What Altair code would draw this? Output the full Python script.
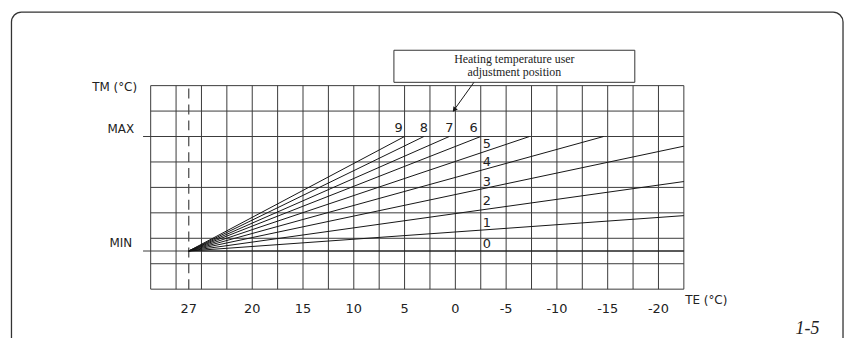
import altair as alt
import pandas as pd

# ---- data ----
te_grid = [30, 27.5, 25, 22.5, 20, 17.5, 15, 12.5, 10, 7.5, 5, 2.5, 0,
           -2.5, -5, -7.5, -10, -12.5, -15, -17.5, -20, -22.5]
tm_grid = [0, 1, 2, 3, 4, 5, 6, 7, 8]
tm_min = 1.5
tm_max = 6.0
te_left_ext = 30.75      # MIN / MAX lines stick out left of the grid
te_design = 26.25        # dashed line, labelled 27

tick_te = [26.25, 20, 15, 10, 5, 0, -5, -10, -15, -20]
tick_text = ["27", "20", "15", "10", "5", "0", "-5", "-10", "-15", "-20"]

curve_id = ["9", "8", "7", "6", "5", "4", "3", "2", "1", "0"]
curve_end_te = [5.0, 3.1, 0.6, -2.5, -7.3, -14.6, -22.5, -22.5, -22.5, -22.5]
curve_end_tm = [6.0, 6.0, 6.0, 6.0, 6.0, 6.0, 5.62, 4.23, 2.89, 1.5]

lab_text = ["9", "8", "7", "6", "5", "4", "3", "2", "1", "0"]
lab_te = [5.6, 3.1, 0.6, -1.8, -3.1, -3.1, -3.1, -3.1, -3.1, -3.1]
lab_tm = [6.32, 6.32, 6.32, 6.32, 5.70, 5.01, 4.23, 3.45, 2.58, 1.76]

ylab_text = ["TM (°C)", "MAX", "MIN"]
ylab_te = [31.34, 31.63, 31.83]
ylab_tm = [7.96, 6.28, 1.83]

note_lines = ["Heating temperature user", "adjustment position"]
note_te = -5.81
note_tm = [9.04, 8.52]
box_te = [6.05, -17.67]
box_tm = [8.13, 9.39]
arrow_from = (-1.83, 8.13)
arrow_to = (0.11, 7.05)

# ---- tables ----
xs = alt.Scale(domain=[30, -22.5], nice=False, zero=False)
ys = alt.Scale(domain=[0, 8], nice=False, zero=False)
X = lambda f: alt.X(f, type="quantitative", scale=xs, axis=None)
Y = lambda f: alt.Y(f, type="quantitative", scale=ys, axis=None)

vgrid = pd.DataFrame({"te": te_grid, "y0": 0, "y1": 8})
hgrid = pd.DataFrame({
    "tm": tm_grid + [tm_min],
    "x0": [30 if t not in (tm_max,) else te_left_ext for t in tm_grid] + [te_left_ext],
    "x1": -22.5,
})
dash = pd.DataFrame({"te": [te_design], "y0": [0], "y1": [8]})

rows = []
for cid, ete, etm in zip(curve_id, curve_end_te, curve_end_tm):
    rows.append({"c": cid, "o": 0, "te": te_design, "tm": tm_min})
    rows.append({"c": cid, "o": 1, "te": ete, "tm": etm})
curves = pd.DataFrame(rows)

labels = pd.DataFrame({"t": lab_text, "te": lab_te, "tm": lab_tm})
ticks = pd.DataFrame({"t": tick_text, "te": tick_te, "tm": -0.78})
ylabs = pd.DataFrame({"t": ylab_text, "te": ylab_te, "tm": ylab_tm})
telab = pd.DataFrame({"t": ["TE (°C)"], "te": [-22.63], "tm": [-0.43]})
fig = pd.DataFrame({"t": ["1-5"], "te": [-34.67], "tm": [-1.56]})
note = pd.DataFrame({"t": note_lines, "te": note_te, "tm": note_tm})
box = pd.DataFrame({"x0": [box_te[0]], "x1": [box_te[1]], "y0": [box_tm[0]], "y1": [box_tm[1]]})
arrow = pd.DataFrame({"x0": [arrow_from[0]], "y0": [arrow_from[1]],
                      "x1": [arrow_to[0]], "y1": [arrow_to[1]]})
one = pd.DataFrame({"a": [0]})

GRID = "#3a3a3a"
INK = "#151515"
SANS = "DejaVu Sans"
SERIF = "Liberation Serif"

border = alt.Chart(one).mark_rect(
    fill=None, stroke="#333", strokeWidth=1.3, cornerRadius=10
).encode(x=alt.value(-140.2), x2=alt.value(697.3), y=alt.value(-74), y2=alt.value(275))

vlines = alt.Chart(vgrid).mark_rule(color=GRID, strokeWidth=1).encode(
    x=X("te"), y=Y("y0"), y2="y1")
hlines = alt.Chart(hgrid).mark_rule(color=GRID, strokeWidth=1).encode(
    x=X("x0"), x2="x1", y=Y("tm"))
dline = alt.Chart(dash).mark_rule(color="#444", strokeWidth=1.2, strokeDash=[10, 6]).encode(
    x=X("te"), y=Y("y0"), y2="y1")
clines = alt.Chart(curves).mark_line(color=INK, strokeWidth=1).encode(
    x=X("te"), y=Y("tm"), detail="c:N", order="o:Q")

clabels = alt.Chart(labels).mark_text(font=SANS, fontSize=13, color="#222",
                                      align="center", baseline="middle").encode(
    x=X("te"), y=Y("tm"), text="t:N")
tlabels = alt.Chart(ticks).mark_text(font=SANS, fontSize=13, color="#222",
                                     align="center", baseline="middle").encode(
    x=X("te"), y=Y("tm"), text="t:N")
ylabels = alt.Chart(ylabs).mark_text(font=SANS, fontSize=12, color="#222",
                                     align="right", baseline="middle").encode(
    x=X("te"), y=Y("tm"), text="t:N")
tetitle = alt.Chart(telab).mark_text(font=SANS, fontSize=12, color="#222",
                                     align="left", baseline="middle").encode(
    x=X("te"), y=Y("tm"), text="t:N")
figno = alt.Chart(fig).mark_text(font=SERIF, fontSize=18, fontStyle="italic", color="#222",
                                 align="center", baseline="middle").encode(
    x=X("te"), y=Y("tm"), text="t:N")

nbox = alt.Chart(box).mark_rect(fill="white", stroke="#333", strokeWidth=1).encode(
    x=X("x0"), x2="x1", y=Y("y0"), y2="y1")
ntext = alt.Chart(note).mark_text(font=SERIF, fontSize=12, color="#222",
                                  align="center", baseline="middle").encode(
    x=X("te"), y=Y("tm"), text="t:N")
aline = alt.Chart(arrow).mark_rule(color=INK, strokeWidth=1).encode(
    x=X("x0"), x2="x1", y=Y("y0"), y2="y1")
ahead = alt.Chart(arrow).mark_point(shape="triangle-up", filled=True, size=30,
                                    angle=216, color=INK, opacity=1).encode(
    x=X("x1"), y=Y("y1"))

chart = alt.layer(
    border, vlines, hlines, dline, clines, clabels, tlabels, ylabels, tetitle,
    figno, nbox, ntext, aline, ahead
).properties(
    width=537, height=205,
    padding={"left": 143.7, "top": 77, "right": 162.3, "bottom": 48},
    autosize=alt.AutoSizeParams(type="none"),
    background="white",
).configure_view(stroke=None)

chart.save("out.html", embed_options={"renderer": "svg", "actions": False})
